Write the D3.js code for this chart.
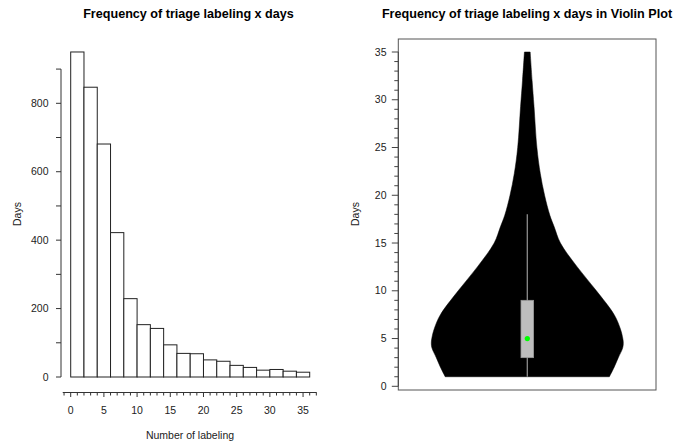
<!DOCTYPE html>
<html>
<head>
<meta charset="utf-8">
<script src="https://cdn.jsdelivr.net/npm/d3@7"></script>
<style>
  body { margin: 0; background: #fff; }
  svg { display: block; font-family: "Liberation Sans", Arial, Helvetica, sans-serif; }
</style>
</head>
<body>
<svg id="chart" width="689" height="444"></svg>
<script>
// ---------- Data ----------
const binStarts = [0, 2, 4, 6, 8, 10, 12, 14, 16, 18, 20, 22, 24, 26, 28, 30, 32, 34];
const binWidth = 2;
const counts = [950, 847, 681, 422, 229, 153, 142, 94, 69, 68, 50, 46, 34, 28, 20, 22, 17, 14];
const histYTicks = [0, 100, 200, 300, 400, 500, 600, 700, 800, 900];
const histYLabels = [0, 200, 400, 600, 800];
const histXLabels = [0, 5, 10, 15, 20, 25, 30, 35];

// violin profile: value level and relative density (0..1)
const violinLevels = [1, 2, 3, 4, 4.5, 5, 6, 7.5, 10, 12.5, 15, 16.7, 17.9, 20, 22.3, 25, 29.3, 32, 35];
const violinDensity = [0.855, 0.905, 0.948, 0.993, 1.0, 0.995, 0.97, 0.905, 0.72, 0.52, 0.345, 0.28, 0.235, 0.18, 0.135, 0.1, 0.07, 0.05, 0.03];
const boxStats = { min: 1, q1: 3, median: 5, q3: 9, whiskerHigh: 18, max: 35 };
const violinYTicks = d3.range(0, 36, 1);
const violinYLabels = [0, 5, 10, 15, 20, 25, 30, 35];

const svg = d3.select("#chart");
const fontSize = 10.5;

// ---------- Histogram ----------
const hx = d3.scaleLinear().domain([0, 36]).range([70.7, 309.7]);
const hy = d3.scaleLinear().domain([0, 800]).range([377, 103.3]);

svg.append("text")
  .attr("x", 188.5).attr("y", 17.5)
  .attr("text-anchor", "middle")
  .attr("font-weight", "bold")
  .attr("font-size", 12.6)
  .attr("fill", "#000")
  .text("Frequency of triage labeling x days");

svg.append("g").selectAll("rect")
  .data(binStarts)
  .join("rect")
  .attr("x", (d) => hx(d))
  .attr("width", hx(binWidth) - hx(0))
  .attr("y", (d, i) => hy(counts[i]))
  .attr("height", (d, i) => hy(0) - hy(counts[i]))
  .attr("fill", "#fff")
  .attr("stroke", "#222")
  .attr("stroke-width", 1);

// y axis
const yAxisX = 61;
const yg = svg.append("g");
yg.append("line")
  .attr("x1", yAxisX).attr("x2", yAxisX)
  .attr("y1", hy(0)).attr("y2", hy(900))
  .attr("stroke", "#333");
yg.selectAll("line.tick").data(histYTicks).join("line")
  .attr("class", "tick")
  .attr("x1", yAxisX - 5).attr("x2", yAxisX)
  .attr("y1", (d) => hy(d)).attr("y2", (d) => hy(d))
  .attr("stroke", "#333");
yg.selectAll("text").data(histYLabels).join("text")
  .attr("x", 48.5).attr("y", (d) => hy(d))
  .attr("dy", "0.35em")
  .attr("text-anchor", "end")
  .attr("font-size", fontSize)
  .attr("fill", "#222")
  .text((d) => d);

// x axis
const xAxisY = 392.5;
const xg = svg.append("g");
xg.append("line")
  .attr("x1", hx(-1.2)).attr("x2", hx(37.05))
  .attr("y1", xAxisY).attr("y2", xAxisY)
  .attr("stroke", "#333");
xg.selectAll("line.tick").data(d3.range(-1, 38, 1)).join("line")
  .attr("class", "tick")
  .attr("x1", (d) => hx(d)).attr("x2", (d) => hx(d))
  .attr("y1", xAxisY).attr("y2", (d) => xAxisY + (d % 5 === 0 ? 4.5 : 3))
  .attr("stroke", "#333");
xg.selectAll("text").data(histXLabels).join("text")
  .attr("x", (d) => hx(d)).attr("y", 410)
  .attr("dy", "0.35em")
  .attr("text-anchor", "middle")
  .attr("font-size", fontSize)
  .attr("fill", "#222")
  .text((d) => d);

svg.append("text")
  .attr("x", 190).attr("y", 435)
  .attr("dy", "0.35em")
  .attr("text-anchor", "middle")
  .attr("font-size", fontSize)
  .attr("fill", "#222")
  .text("Number of labeling");

svg.append("text")
  .attr("transform", "translate(17,214) rotate(-90)")
  .attr("dy", "0.35em")
  .attr("text-anchor", "middle")
  .attr("font-size", fontSize)
  .attr("fill", "#222")
  .text("Days");

// ---------- Violin ----------
const vy = d3.scaleLinear().domain([0, 35]).range([386.3, 52]);
const vw = d3.scaleLinear().domain([0, 1]).range([0, 96]);
const cx = 527.3;

svg.append("text")
  .attr("x", 527).attr("y", 17.5)
  .attr("text-anchor", "middle")
  .attr("font-weight", "bold")
  .attr("font-size", 12.6)
  .attr("fill", "#000")
  .text("Frequency of triage labeling x days in Violin Plot");

svg.append("rect")
  .attr("x", 398.3).attr("y", 39)
  .attr("width", 656 - 398.3).attr("height", 390 - 39)
  .attr("fill", "none")
  .attr("stroke", "#555")
  .attr("stroke-width", 1);

const violinData = violinLevels.map((v, i) => ({ v, d: violinDensity[i] }));
const area = d3.area()
  .y((p) => vy(p.v))
  .x0((p) => cx - vw(p.d))
  .x1((p) => cx + vw(p.d))
  .curve(d3.curveCatmullRom.alpha(0.5));
svg.append("path")
  .datum(violinData)
  .attr("d", area)
  .attr("fill", "#000")
  .attr("stroke", "#000")
  .attr("stroke-width", 0.5);

// whisker
svg.append("line")
  .attr("x1", cx).attr("x2", cx)
  .attr("y1", vy(boxStats.min)).attr("y2", vy(boxStats.whiskerHigh))
  .attr("stroke", "#8c8c8c")
  .attr("stroke-width", 1.3);
// box
svg.append("rect")
  .attr("x", cx - 6.3).attr("width", 12.6)
  .attr("y", vy(boxStats.q3)).attr("height", vy(boxStats.q1) - vy(boxStats.q3))
  .attr("fill", "#bebebe")
  .attr("stroke", "#9a9a9a")
  .attr("stroke-width", 0.8);
svg.append("circle")
  .attr("cx", cx).attr("cy", vy(boxStats.median))
  .attr("r", 2.6)
  .attr("fill", "#00ff00");

// violin y axis
const vg = svg.append("g");
vg.selectAll("line.tick").data(violinYTicks).join("line")
  .attr("class", "tick")
  .attr("x1", (d) => 398.3 - (d % 5 === 0 ? 6.5 : 4)).attr("x2", 398.3)
  .attr("y1", (d) => vy(d)).attr("y2", (d) => vy(d))
  .attr("stroke", "#444");
vg.append("line")
  .attr("x1", 398.3).attr("x2", 398.3)
  .attr("y1", vy(0)).attr("y2", vy(35))
  .attr("stroke", "#444");
vg.selectAll("text").data(violinYLabels).join("text")
  .attr("x", 386.5).attr("y", (d) => vy(d))
  .attr("dy", "0.35em")
  .attr("text-anchor", "end")
  .attr("font-size", fontSize)
  .attr("fill", "#222")
  .text((d) => d);

svg.append("text")
  .attr("transform", "translate(355,214) rotate(-90)")
  .attr("dy", "0.35em")
  .attr("text-anchor", "middle")
  .attr("font-size", fontSize)
  .attr("fill", "#222")
  .text("Days");
</script>
</body>
</html>
